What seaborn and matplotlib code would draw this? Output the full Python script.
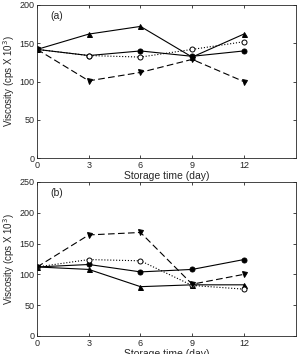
import numpy as np
import pandas as pd
import matplotlib
matplotlib.use("Agg")
import matplotlib.pyplot as plt
import seaborn as sns

days = [0, 3, 6, 9, 12]

# panel (a)
a_tri_up = [142, 162, 172, 132, 162]
a_filled = [142, 134, 140, 133, 140]
a_open = [142, 134, 132, 142, 152]
a_tri_down = [142, 101, 112, 129, 100]

# panel (b)
b_filled = [112, 116, 104, 108, 124]
b_tri_up = [112, 108, 80, 83, 83]
b_open = [112, 124, 122, 82, 76]
b_tri_down = [112, 164, 168, 84, 100]

sns.set_style("ticks")
plt.rcParams['font.family'] = ['Liberation Sans', 'DejaVu Sans']
plt.rcParams['xtick.direction'] = 'in'
plt.rcParams['ytick.direction'] = 'in'

fig = plt.figure(figsize=(2.97, 3.54), dpi=100)
ax1 = fig.add_axes([0.125, 0.553, 0.87, 0.433])
ax2 = fig.add_axes([0.125, 0.051, 0.87, 0.435])

styles = [
    dict(marker='^', linestyle='-', mfc='black'),
    dict(marker='o', linestyle='-', mfc='black'),
    dict(marker='o', linestyle=':', mfc='white'),
    dict(marker='v', linestyle=(0, (6, 3)), mfc='black'),
]


def draw(ax, series, ymax, label):
    for vals, st in zip(series, styles):
        df = pd.DataFrame({'day': days, 'v': vals})
        sns.lineplot(data=df, x='day', y='v', ax=ax, color='black', lw=0.8,
                     marker=st['marker'], linestyle=st['linestyle'],
                     markersize=3.6, markerfacecolor=st['mfc'],
                     markeredgecolor='black', markeredgewidth=0.7)
    ax.set_xlim(0, 15)
    ax.set_ylim(0, ymax)
    ax.set_xticks(days)
    ax.set_yticks(np.arange(0, ymax + 1, 50))
    ax.tick_params(labelsize=6.5, length=2.5, width=0.6, top=True, right=True, pad=2)
    for s in ax.spines.values():
        s.set_linewidth(0.6)
        s.set_visible(True)
    ax.set_xlabel('Storage time (day)', fontsize=7.5, labelpad=1)
    ax.set_ylabel('Viscosity (cps X 10$^3$)', fontsize=7, labelpad=2)
    ax.text(0.05, 0.93, label, transform=ax.transAxes, fontsize=7.5, va='center')


draw(ax1, [a_tri_up, a_filled, a_open, a_tri_down], 200, '(a)')
draw(ax2, [b_tri_up, b_filled, b_open, b_tri_down], 250, '(b)')

fig.savefig('out.png', dpi=100)
